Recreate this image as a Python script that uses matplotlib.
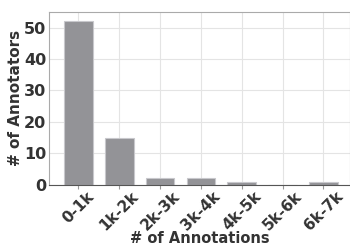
import matplotlib
matplotlib.use('Agg')
import matplotlib.pyplot as plt

# Data
bins = ['0-1k', '1k-2k', '2k-3k', '3k-4k', '4k-5k', '5k-6k', '6k-7k']
annotators = [52, 15, 2, 2, 1, 0, 1]

plt.rcParams['font.family'] = ['DejaVu Sans']
plt.rcParams['font.weight'] = 'bold'

fig, ax = plt.subplots(figsize=(3.5, 2.48), dpi=100)
x = range(len(bins))
ax.bar(x, annotators, width=0.7, color='#939397', edgecolor='#c8c8cc', linewidth=0.8, zorder=2)

ax.set_xticks(list(x))
ax.set_xticklabels(bins, rotation=45, ha='center',
                   fontsize=11, fontweight='bold', color='#333333')
ax.tick_params(axis='y', labelsize=11.5, labelcolor='#333333', length=0, pad=2)
ax.tick_params(axis='x', length=3, color='#999999', pad=0)
for lbl in ax.get_yticklabels():
    lbl.set_fontweight('bold')

ax.set_ylim(0, 55)
ax.set_xlim(-0.72, 6.65)
ax.set_yticks([0, 10, 20, 30, 40, 50])
ax.grid(True, color='#e4e4e4', linewidth=0.8, zorder=0)
ax.set_axisbelow(True)

for side in ['top', 'right', 'left']:
    ax.spines[side].set_color('#aaaaaa')
ax.spines['bottom'].set_color('#555555')

ax.set_xlabel('# of Annotations', fontsize=10.5, fontweight='bold', color='#333333', labelpad=-2)
ax.set_ylabel('# of Annotators', fontsize=11, fontweight='bold', color='#333333', labelpad=1)

fig.subplots_adjust(left=0.14, right=1.0, top=0.952, bottom=0.255)
fig.savefig('out.png', dpi=100)
